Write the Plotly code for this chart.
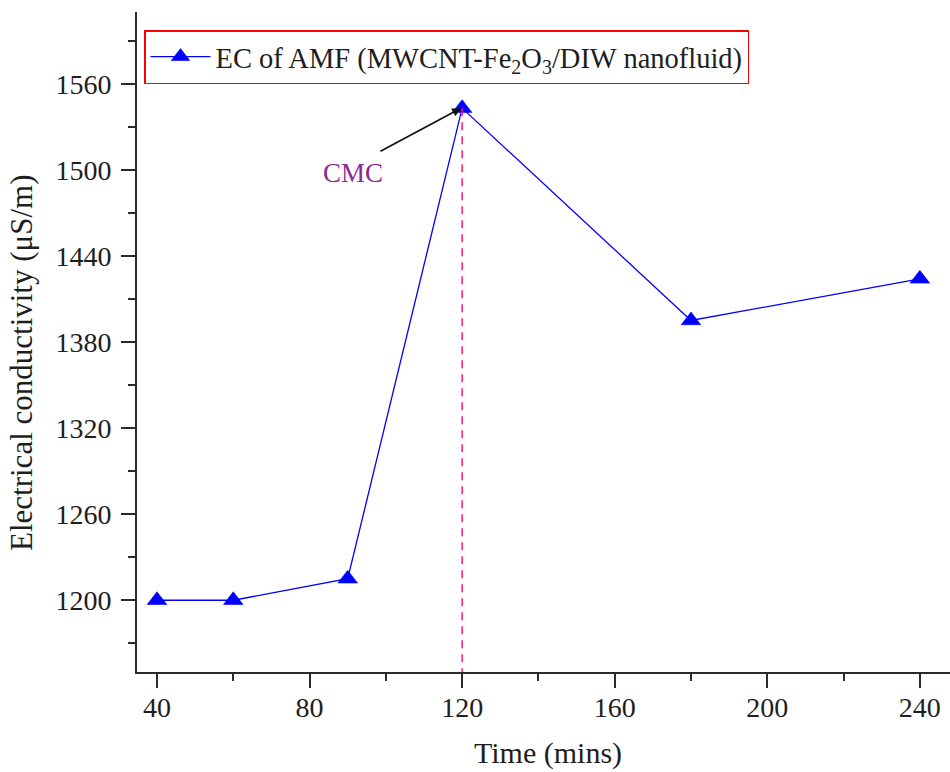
import plotly.graph_objects as go

# ---- data ----
time_min = [40, 60, 90, 120, 180, 240]
ec_values = [1200, 1200, 1215, 1543, 1395, 1424]
cmc_time = 120
cmc_value = 1543
series_name = "EC of AMF (MWCNT-Fe<sub>2</sub>O<sub>3</sub>/DIW nanofluid)"
x_title = "Time (mins)"
y_title = "Electrical conductivity (μS/m)"
x_range = [34.76, 247.9]
y_range = [1150, 1610]

FONT = "Liberation Serif"
AX = "#2b2b2b"
TXT = "#1e1e1e"

fig = go.Figure()
fig.add_trace(go.Scatter(
    x=time_min, y=ec_values, mode="lines+markers", name=series_name,
    line=dict(color="#0000FF", width=1.3),
    marker=dict(symbol="triangle-up", size=17, color="#0000FF",
                line=dict(color="#0000FF", width=0.6)),
))

# CMC dashed line
fig.add_shape(type="line", xref="x", yref="y",
              x0=cmc_time, x1=cmc_time, y0=cmc_value, y1=y_range[0],
              line=dict(color="#FF1480", width=1.5, dash="8px,6px"))

# CMC label and arrow
fig.add_annotation(x=cmc_time - 0.3, y=cmc_value, xref="x", yref="y",
                   text="", showarrow=True, arrowhead=2, arrowsize=1.1,
                   arrowwidth=1.6, arrowcolor="#111111", ax=-82, ay=44, standoff=0)
fig.add_annotation(x=cmc_time - 0.3, y=cmc_value, xref="x", yref="y",
                   text="CMC", showarrow=False, xshift=-108, yshift=-65,
                   font=dict(family=FONT, size=27, color="#8E2A8E"))

# axis titles
fig.add_annotation(xref="paper", yref="paper", x=(22 - 137) / 813, y=(672 - 363) / 660,
                   text=y_title, textangle=-90, showarrow=False,
                   xanchor="center", yanchor="middle",
                   font=dict(family=FONT, size=31, color=TXT))
fig.add_annotation(xref="paper", yref="paper", x=(548 - 137) / 813, y=(672 - 753) / 660,
                   text=x_title, showarrow=False, xanchor="center", yanchor="middle",
                   font=dict(family=FONT, size=30, color=TXT))

fig.update_layout(
    width=950, height=772,
    margin=dict(l=137, r=0, t=12, b=100),
    paper_bgcolor="white", plot_bgcolor="white",
    font=dict(family=FONT, size=28, color=TXT),
    showlegend=True,
    legend=dict(x=(144 - 137) / 813, y=(672 - 30) / 660, xanchor="left", yanchor="top",
                bgcolor="white", bordercolor="#FF0000", borderwidth=1.5,
                itemwidth=60, font=dict(family=FONT, size=28.5, color=TXT)),
    xaxis=dict(range=x_range, tickmode="linear", tick0=40, dtick=40,
               ticks="outside", ticklen=14, tickwidth=2, tickcolor=AX,
               minor=dict(dtick=20, ticks="outside", ticklen=7, tickwidth=2, tickcolor=AX),
               showline=True, linecolor=AX, linewidth=2, showgrid=False, zeroline=False,
               ticklabelstandoff=-5,
               tickfont=dict(family=FONT, size=28, color=TXT)),
    yaxis=dict(range=y_range, tickmode="linear", tick0=1200, dtick=60,
               ticks="outside", ticklen=14, tickwidth=2, tickcolor=AX,
               minor=dict(dtick=30, ticks="outside", ticklen=7, tickwidth=2, tickcolor=AX),
               showline=True, linecolor=AX, linewidth=2, showgrid=False, zeroline=False,
               ticklabelstandoff=4,
               tickfont=dict(family=FONT, size=28, color=TXT)),
    xaxis2=dict(overlaying="x", side="top", anchor="y", range=[137, 950],
                tickmode="linear", tick0=301, dtick=164,
                ticks="inside", ticklen=13, tickwidth=2, tickcolor=AX,
                minor=dict(dtick=82, ticks="inside", ticklen=6, tickwidth=2, tickcolor=AX),
                showticklabels=False, showline=True, linecolor=AX, linewidth=2,
                showgrid=False, zeroline=False),
    yaxis2=dict(overlaying="y", side="right", anchor="x", range=[0, 660],
                tickmode="linear", tick0=131, dtick=133,
                ticks="inside", ticklen=7, tickwidth=2, tickcolor=AX,
                showticklabels=False, showline=False, showgrid=False, zeroline=False),
)

fig.write_html("out.html")
